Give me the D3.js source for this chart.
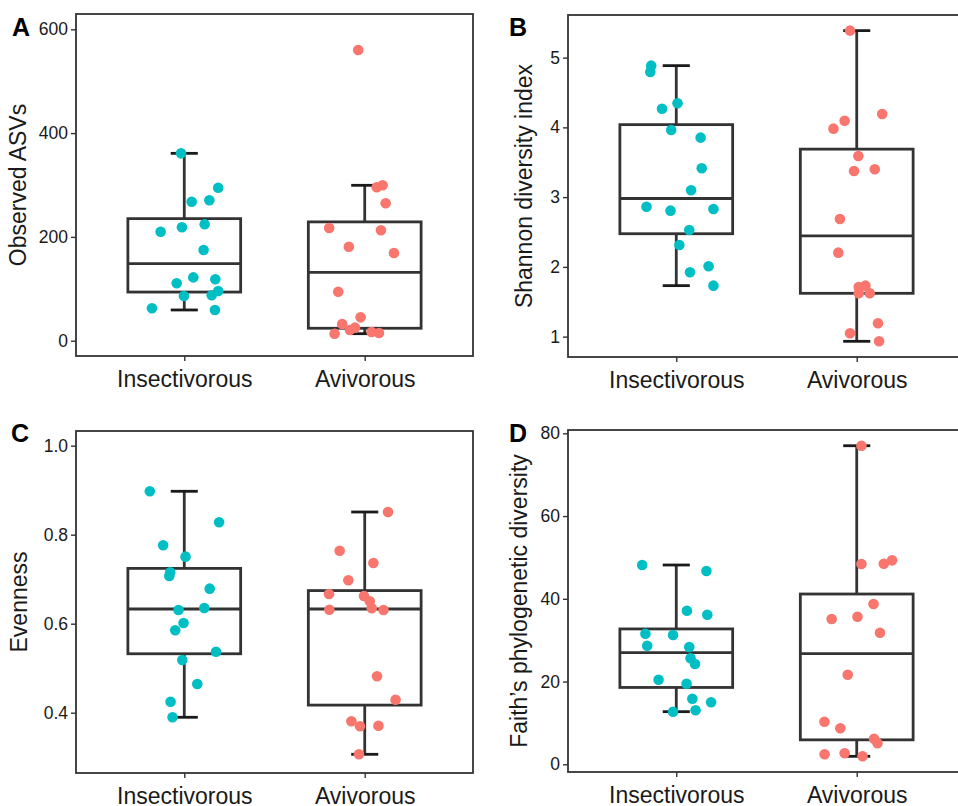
<!DOCTYPE html>
<html>
<head>
<meta charset="utf-8">
<script src="https://cdn.jsdelivr.net/npm/d3@7"></script>
<style>
  html, body { margin: 0; padding: 0; background: #fff; }
  svg { display: block; font-family: "Liberation Sans", Arial, sans-serif; }
</style>
</head>
<body>
<svg id="chart" width="958" height="806"></svg>
<script>
// ---------------- DATA ----------------
const categories = ["Insectivorous", "Avivorous"];
const groupColors = ["#00BFC4", "#F8766D"];

// A: Observed ASVs
const asvInsectivorous = [361, 294.8, 267.8, 270.5, 210, 218.5, 224.3, 174.8, 122, 110.6, 118.3, 95.8, 86.1, 87.5, 62.4, 59.2];
const asvAvivorous     = [560, 295.6, 299.4, 264.7, 217, 212.7, 181, 169, 94.4, 45, 32.2, 25.1, 20.6, 13.5, 16.8, 14.8];
const asvJitterIns = [-0.018, 0.188, 0.041, 0.139, -0.131, -0.013, 0.113, 0.107, 0.050, -0.042, 0.172, 0.188, -0.002, 0.152, -0.179, 0.170];
const asvJitterAvi = [-0.036, 0.066, 0.099, 0.116, -0.197, 0.090, -0.088, 0.162, -0.147, -0.023, -0.125, -0.054, -0.082, -0.167, 0.038, 0.079];
const asvTicks = [0, 200, 400, 600];

// B: Shannon diversity index
const shannonInsectivorous = [4.885, 4.794, 4.268, 4.345, 3.963, 3.853, 3.414, 3.098, 2.863, 2.806, 2.830, 2.529, 2.314, 1.923, 2.009, 1.731];
const shannonAvivorous     = [5.387, 4.192, 3.982, 4.096, 3.590, 3.375, 3.399, 2.687, 2.204, 1.712, 1.731, 1.621, 1.621, 1.191, 1.048, 0.933];
const shannonJitterIns = [-0.139, -0.144, -0.079, 0.007, -0.028, 0.135, 0.141, 0.082, -0.165, -0.032, 0.206, 0.072, 0.017, 0.076, 0.179, 0.206];
const shannonJitterAvi = [-0.037, 0.141, -0.129, -0.067, 0.009, -0.015, 0.100, -0.093, -0.102, 0.011, 0.048, 0.011, 0.072, 0.118, -0.037, 0.124];
const shannonTicks = [1, 2, 3, 4, 5];

// C: Evenness
const evenInsectivorous = [0.8975, 0.8278, 0.7762, 0.7506, 0.7155, 0.7072, 0.6787, 0.6308, 0.6353, 0.6016, 0.5852, 0.5371, 0.5184, 0.4645, 0.4247, 0.3897];
const evenAvivorous     = [0.851, 0.764, 0.7364, 0.6975, 0.6667, 0.6622, 0.6503, 0.6315, 0.6346, 0.6308, 0.4818, 0.4292, 0.3807, 0.3694, 0.3708, 0.3065];
const evenJitterIns = [-0.191, 0.193, -0.117, 0.007, -0.078, -0.083, 0.141, -0.032, 0.111, -0.004, -0.050, 0.176, -0.011, 0.072, -0.076, -0.065];
const evenJitterAvi = [0.129, -0.139, 0.048, -0.091, -0.198, -0.004, 0.028, -0.196, 0.039, 0.104, 0.068, 0.171, -0.074, -0.026, 0.076, -0.032];
const evenTicks = [0.4, 0.6, 0.8, 1.0];

// D: Faith's phylogenetic diversity
const faithInsectivorous = [48.17, 46.72, 37.13, 36.16, 31.57, 31.25, 28.67, 28.35, 25.62, 24.24, 20.45, 19.48, 15.86, 14.99, 12.72, 13.05];
const faithAvivorous     = [77.0, 48.41, 48.49, 49.3, 38.74, 35.12, 35.68, 31.81, 21.66, 10.3, 8.70, 6.19, 5.08, 2.42, 2.66, 1.93];
const faithJitterIns = [-0.189, 0.167, 0.059, 0.172, -0.171, -0.018, -0.161, 0.072, 0.079, 0.104, -0.098, 0.057, 0.089, 0.193, -0.018, 0.107];
const faithJitterAvi = [0.026, 0.026, 0.150, 0.196, 0.093, -0.139, 0.004, 0.129, -0.050, -0.179, -0.091, 0.096, 0.115, -0.178, -0.067, 0.032];
const faithTicks = [0, 20, 40, 60, 80];

// ---------------- LAYOUT ----------------
const panels = [
  { letter: "A", title: "Observed ASVs", x0: 76, x1: 473, y0: 14, y1: 356, domain: [-29.5, 629.5],
    ticks: asvTicks, fmt: d3.format("d"), values: [asvInsectivorous, asvAvivorous],
    jitter: [asvJitterIns, asvJitterAvi], titleX: 26, letterX: 12, letterY: 36 },
  { letter: "B", title: "Shannon diversity index", x0: 568, x1: 965, y0: 15, y1: 357, domain: [0.708, 5.611],
    ticks: shannonTicks, fmt: d3.format("d"), values: [shannonInsectivorous, shannonAvivorous],
    jitter: [shannonJitterIns, shannonJitterAvi], titleX: 532, letterX: 509, letterY: 36 },
  { letter: "C", title: "Evenness", x0: 76, x1: 473, y0: 431, y1: 773, domain: [0.2645, 1.033],
    ticks: evenTicks, fmt: d3.format(".1f"), values: [evenInsectivorous, evenAvivorous],
    jitter: [evenJitterIns, evenJitterAvi], titleX: 26.5, letterX: 11, letterY: 442 },
  { letter: "D", title: "Faith\u2019s phylogenetic diversity", x0: 568, x1: 965, y0: 430, y1: 772, domain: [-1.86, 80.8],
    ticks: faithTicks, fmt: d3.format("d"), values: [faithInsectivorous, faithAvivorous],
    jitter: [faithJitterIns, faithJitterAvi], titleX: 527, letterX: 509, letterY: 442 }
];

const svg = d3.select("#chart");
const boxColor = "#333333";
const capColor = "#1a1a1a";

function boxStats(vals) {
  const s = vals.slice().sort(d3.ascending);
  const q1 = d3.quantile(s, 0.25), med = d3.quantile(s, 0.5), q3 = d3.quantile(s, 0.75);
  const iqr = q3 - q1;
  const lo = d3.min(s.filter(v => v >= q1 - 1.5 * iqr));
  const hi = d3.max(s.filter(v => v <= q3 + 1.5 * iqr));
  return { q1, med, q3, lo, hi };
}

panels.forEach(p => {
  const g = svg.append("g");
  const x = d3.scaleLinear().domain([0.4, 2.6]).range([p.x0, p.x1]);
  const y = d3.scaleLinear().domain(p.domain).range([p.y1, p.y0]);

  // Y axis
  const yAxis = d3.axisLeft(y).tickValues(p.ticks).tickFormat(p.fmt).tickSize(5).tickPadding(3);
  const ya = g.append("g").attr("transform", `translate(${p.x0},0)`).call(yAxis);
  ya.select(".domain").remove();
  ya.selectAll(".tick line").attr("stroke", "#333").attr("stroke-width", 1.4);
  ya.selectAll(".tick text").attr("font-size", "17.5px").attr("fill", "#1a1a1a")
    .attr("font-family", "Liberation Sans, Arial, sans-serif");

  // X axis
  const xAxis = d3.axisBottom(x).tickValues([1, 2]).tickFormat((d, i) => categories[i]).tickSize(5).tickPadding(10);
  const xa = g.append("g").attr("transform", `translate(0,${p.y1})`).call(xAxis);
  xa.select(".domain").remove();
  xa.selectAll(".tick line").attr("stroke", "#333").attr("stroke-width", 1.4);
  xa.selectAll(".tick text").attr("font-size", "23px").attr("fill", "#1a1a1a")
    .attr("font-family", "Liberation Sans, Arial, sans-serif");

  // Panel background/border
  g.append("rect").attr("x", p.x0).attr("y", p.y0)
    .attr("width", p.x1 - p.x0).attr("height", p.y1 - p.y0)
    .attr("fill", "none").attr("stroke", "#333").attr("stroke-width", 1.8);

  const plot = g.append("g");
  p.values.forEach((vals, gi) => {
    const st = boxStats(vals);
    const cx = x(gi + 1);
    const bw = 0.625, cw = 0.15;
    // whiskers
    plot.append("line").attr("x1", cx).attr("x2", cx).attr("y1", y(st.q3)).attr("y2", y(st.hi))
      .attr("stroke", boxColor).attr("stroke-width", 2.8);
    plot.append("line").attr("x1", cx).attr("x2", cx).attr("y1", y(st.q1)).attr("y2", y(st.lo))
      .attr("stroke", boxColor).attr("stroke-width", 2.8);
    // caps
    [st.hi, st.lo].forEach(v => {
      plot.append("line").attr("x1", x(gi + 1 - cw / 2)).attr("x2", x(gi + 1 + cw / 2))
        .attr("y1", y(v)).attr("y2", y(v)).attr("stroke", capColor).attr("stroke-width", 2.8);
    });
    // box
    plot.append("rect").attr("x", x(gi + 1 - bw / 2)).attr("width", x(gi + 1 + bw / 2) - x(gi + 1 - bw / 2))
      .attr("y", y(st.q3)).attr("height", y(st.q1) - y(st.q3))
      .attr("fill", "#fff").attr("stroke", boxColor).attr("stroke-width", 2.8);
    plot.append("line").attr("x1", x(gi + 1 - bw / 2)).attr("x2", x(gi + 1 + bw / 2))
      .attr("y1", y(st.med)).attr("y2", y(st.med)).attr("stroke", boxColor).attr("stroke-width", 2.8);
  });
  // points
  p.values.forEach((vals, gi) => {
    plot.selectAll(null).data(vals.map((v, i) => ({ v, j: p.jitter[gi][i] }))).enter()
      .append("circle")
      .attr("cx", d => x(gi + 1 + d.j)).attr("cy", d => y(d.v)).attr("r", 5.3)
      .attr("fill", groupColors[gi]);
  });

  // Y title
  g.append("text")
    .attr("transform", `translate(${p.titleX},${(p.y0 + p.y1) / 2}) rotate(-90)`)
    .attr("text-anchor", "middle").attr("font-size", "23px").attr("fill", "#1a1a1a")
    .text(p.title);

  // Panel letter
  g.append("text").attr("x", p.letterX).attr("y", p.letterY)
    .attr("font-size", "25px").attr("font-weight", "bold").attr("fill", "#000")
    .text(p.letter);
});
</script>
</body>
</html>
